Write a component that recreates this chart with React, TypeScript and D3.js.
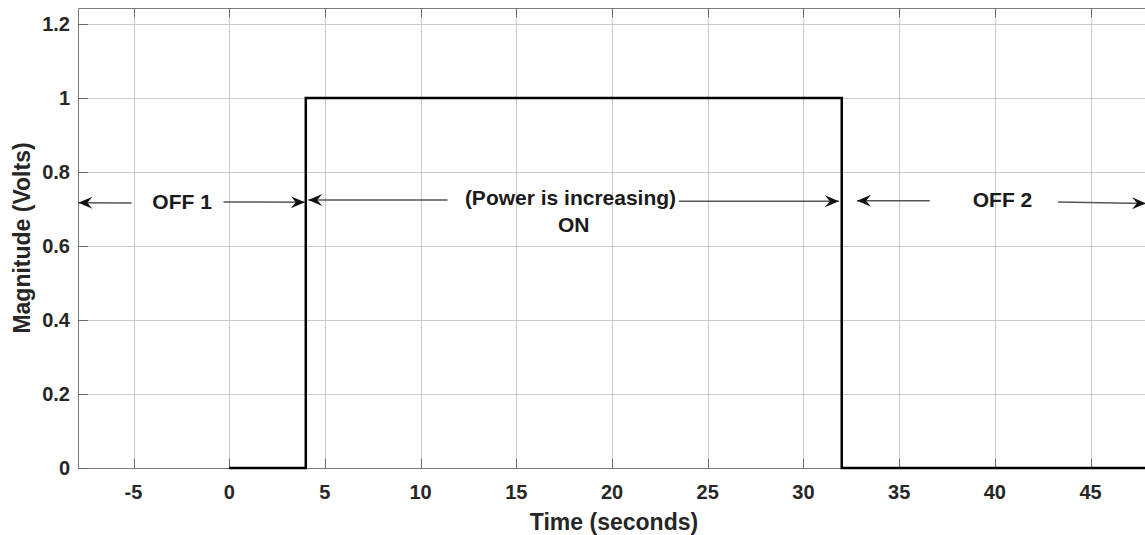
import React, { useRef, useEffect } from 'react';
import * as d3 from 'd3';

// pulse signal (time, magnitude)
const signalTime = [0, 4, 4, 32, 32, 48.5];
const signalValue = [0, 0, 1, 1, 0, 0];

const xTicks = [-5, 0, 5, 10, 15, 20, 25, 30, 35, 40, 45];
const yTicks = [0, 0.2, 0.4, 0.6, 0.8, 1, 1.2];

// annotation arrows, head at (x2, y2)
const arrowX1 = [-5.1, -0.3, 11.4, 23.5, 36.6, 43.3];
const arrowY1 = [0.716, 0.719, 0.724, 0.721, 0.722, 0.719];
const arrowX2 = [-7.88, 3.95, 4.13, 31.85, 32.8, 47.9];
const arrowY2 = [0.717, 0.718, 0.724, 0.721, 0.722, 0.715];

const labelText = ['OFF 1', '(Power is increasing)', 'ON', 'OFF 2'];
const labelX = [-2.46, 17.83, 18.0, 40.4];
const labelY = [0.719, 0.730, 0.658, 0.726];

const App = () => {
  const svgRef = useRef(null);
  const width = 1145;
  const height = 535;
  const margin = { top: 8, right: -3, bottom: 67, left: 78 };

  useEffect(() => {
    const svg = d3.select(svgRef.current);
    svg.selectAll('*').remove();

    const x = d3.scaleLinear()
      .domain([-7.9, 48])
      .range([margin.left, width - margin.right]);
    const y = d3.scaleLinear()
      .domain([0, 1.243])
      .range([height - margin.bottom, margin.top]);

    const font = 'Liberation Sans, Arial, Helvetica, sans-serif';
    const [x0, x1] = x.range();
    const [yb, yt] = y.range();

    // arrowhead
    svg.append('defs').append('marker')
      .attr('id', 'head')
      .attr('viewBox', '-15 -7 16 14')
      .attr('markerWidth', 16)
      .attr('markerHeight', 14)
      .attr('markerUnits', 'userSpaceOnUse')
      .attr('refX', 0)
      .attr('refY', 0)
      .attr('orient', 'auto')
      .append('path')
      .attr('d', 'M0,0 L-14,-6 L-9,0 L-14,6 Z')
      .attr('fill', '#111');

    // grid
    const grid = svg.append('g').attr('stroke', '#c9c9c9').attr('stroke-width', 1);
    grid.selectAll('line.gx')
      .data(xTicks)
      .enter().append('line')
      .attr('x1', d => Math.round(x(d)) + 0.5)
      .attr('x2', d => Math.round(x(d)) + 0.5)
      .attr('y1', yt)
      .attr('y2', yb);
    grid.selectAll('line.gy')
      .data(yTicks)
      .enter().append('line')
      .attr('x1', x0)
      .attr('x2', x1)
      .attr('y1', d => Math.round(y(d)) + 0.5)
      .attr('y2', d => Math.round(y(d)) + 0.5);

    // box
    svg.append('path')
      .attr('d', `M${x1},${yt + 0.5} H${x0 + 0.5} V${yb + 0.5} H${x1}`)
      .attr('fill', 'none')
      .attr('stroke', '#7a7a7a')
      .attr('stroke-width', 1);

    // small inner ticks
    const tk = svg.append('g').attr('stroke', '#6a6a6a');
    tk.selectAll('line.tb')
      .data(xTicks)
      .enter().append('line')
      .attr('x1', d => Math.round(x(d)) + 0.5)
      .attr('x2', d => Math.round(x(d)) + 0.5)
      .attr('y1', yb)
      .attr('y2', yb - 9);
    tk.selectAll('line.tt')
      .data(xTicks)
      .enter().append('line')
      .attr('x1', d => Math.round(x(d)) + 0.5)
      .attr('x2', d => Math.round(x(d)) + 0.5)
      .attr('y1', yt)
      .attr('y2', yt + 9);
    tk.selectAll('line.tl')
      .data(yTicks)
      .enter().append('line')
      .attr('x1', x0)
      .attr('x2', x0 + 10)
      .attr('y1', d => Math.round(y(d)) + 0.5)
      .attr('y2', d => Math.round(y(d)) + 0.5);

    // tick labels
    svg.append('g').selectAll('text')
      .data(xTicks)
      .enter().append('text')
      .attr('x', d => x(d))
      .attr('y', yb + 31)
      .attr('text-anchor', 'middle')
      .attr('font-family', font)
      .attr('font-weight', 'bold')
      .attr('font-size', 20)
      .attr('fill', '#262626')
      .text(d => d);
    svg.append('g').selectAll('text')
      .data(yTicks)
      .enter().append('text')
      .attr('x', x0 - 8)
      .attr('y', d => y(d))
      .attr('dy', '0.36em')
      .attr('text-anchor', 'end')
      .attr('font-family', font)
      .attr('font-weight', 'bold')
      .attr('font-size', 20)
      .attr('fill', '#262626')
      .text(d => d);

    // axis titles
    svg.append('text')
      .attr('x', 614)
      .attr('y', 530)
      .attr('text-anchor', 'middle')
      .attr('font-family', font)
      .attr('font-weight', 'bold')
      .attr('font-size', 23)
      .attr('fill', '#262626')
      .text('Time (seconds)');
    svg.append('text')
      .attr('transform', `translate(30,${(yt + yb) / 2}) rotate(-90)`)
      .attr('text-anchor', 'middle')
      .attr('font-family', font)
      .attr('font-weight', 'bold')
      .attr('font-size', 23)
      .attr('fill', '#262626')
      .text('Magnitude (Volts)');

    // signal
    const line = d3.line<number>()
      .x((d, i) => x(signalTime[i]))
      .y(d => y(d));
    svg.append('path')
      .datum(signalValue)
      .attr('d', line)
      .attr('fill', 'none')
      .attr('stroke', '#000')
      .attr('stroke-width', 2.5);

    // arrows
    svg.append('g').selectAll('line')
      .data(arrowX1)
      .enter().append('line')
      .attr('x1', (d, i) => x(d))
      .attr('y1', (d, i) => y(arrowY1[i]))
      .attr('x2', (d, i) => x(arrowX2[i]))
      .attr('y2', (d, i) => y(arrowY2[i]))
      .attr('stroke', '#555')
      .attr('stroke-width', 1.5)
      .attr('marker-end', 'url(#head)');

    // annotation text
    svg.append('g').selectAll('text')
      .data(labelText)
      .enter().append('text')
      .attr('x', (d, i) => x(labelX[i]))
      .attr('y', (d, i) => y(labelY[i]))
      .attr('dy', '0.36em')
      .attr('text-anchor', 'middle')
      .attr('font-family', font)
      .attr('font-weight', 'bold')
      .attr('font-size', 21)
      .attr('fill', '#1a1a1a')
      .text(d => d);
  }, []);

  return (
    <svg
      ref={svgRef}
      width={width}
      height={height}
      style={{ position: 'absolute', left: 0, top: 0, background: '#fff' }}
    />
  );
};

export default App;
